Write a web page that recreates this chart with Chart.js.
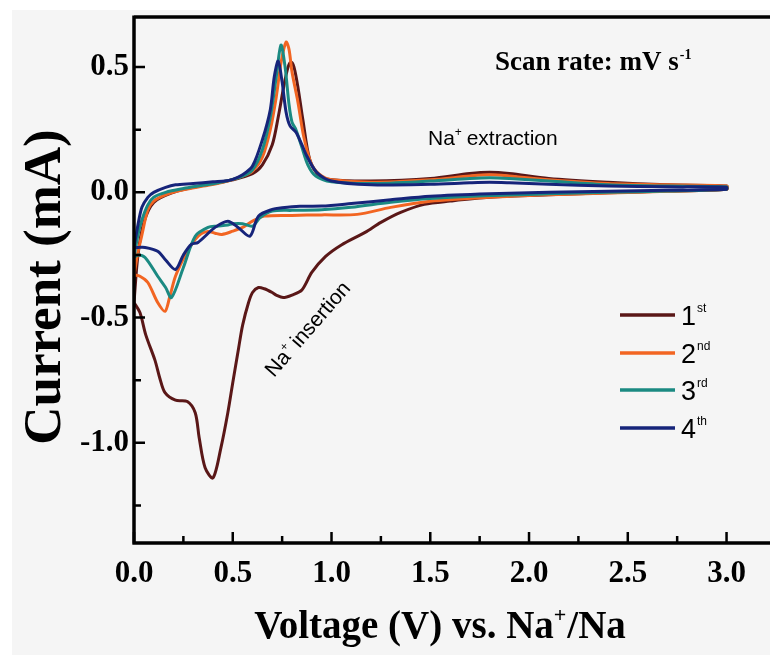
<!DOCTYPE html>
<html><head><meta charset="utf-8">
<script src="https://cdn.jsdelivr.net/npm/chart.js@4/dist/chart.umd.min.js"></script>
<style>html,body{margin:0;padding:0;background:#fff;}#wrap{width:770px;height:655px;}</style>
</head><body><div id="wrap"><canvas id="c" width="770" height="655"></canvas></div>
<script>
// ---- data ----
const cycleNumbers = ['1', '2', '3', '4'];
const cycleSuffixes = ['st', 'nd', 'rd', 'th'];
const cycleColors = ['#5a1717', '#f26522', '#1b8a82', '#16247a'];
const xTickLabels = ['0.0', '0.5', '1.0', '1.5', '2.0', '2.5', '3.0'];
const yTickLabels = ['-1.0', '-0.5', '0.0', '0.5'];

// cycle 1 (anodic sweep 0 -> 3 V, then cathodic 3 -> 0 V)
const c1AnodicV = [0.00, 0.02, 0.05, 0.10, 0.20, 0.30, 0.40, 0.50, 0.60, 0.65, 0.70, 0.73, 0.76, 0.78, 0.795, 0.81, 0.83, 0.855, 0.89, 0.94, 1.00, 1.20, 1.50, 1.70, 1.80, 1.90, 2.10, 2.40, 2.70, 3.00];
const c1AnodicI = [-0.44, -0.25, -0.12, -0.04, 0.00, 0.02, 0.035, 0.05, 0.075, 0.11, 0.19, 0.30, 0.43, 0.50, 0.52, 0.50, 0.42, 0.29, 0.13, 0.065, 0.05, 0.045, 0.055, 0.075, 0.08, 0.075, 0.055, 0.04, 0.03, 0.025];
const c1CathodicV = [3.00, 2.70, 2.40, 2.10, 1.80, 1.60, 1.47, 1.35, 1.25, 1.17, 1.05, 0.97, 0.90, 0.85, 0.80, 0.755, 0.72, 0.70, 0.66, 0.63, 0.60, 0.58, 0.55, 0.53, 0.50, 0.475, 0.44, 0.40, 0.36, 0.33, 0.31, 0.27, 0.21, 0.157, 0.13, 0.106, 0.06, 0.03, 0.00];
const c1CathodicI = [0.012, 0.005, -0.002, -0.01, -0.02, -0.035, -0.048, -0.08, -0.12, -0.16, -0.21, -0.256, -0.32, -0.39, -0.41, -0.42, -0.41, -0.40, -0.385, -0.38, -0.40, -0.44, -0.53, -0.62, -0.76, -0.88, -1.02, -1.14, -1.10, -0.98, -0.88, -0.835, -0.83, -0.80, -0.74, -0.67, -0.57, -0.48, -0.44];

// cycle 2
const c2AnodicV = [0.00, 0.02, 0.04, 0.07, 0.10, 0.16, 0.25, 0.35, 0.45, 0.55, 0.60, 0.65, 0.69, 0.72, 0.745, 0.77, 0.785, 0.80, 0.83, 0.86, 0.90, 0.95, 1.00, 1.20, 1.50, 1.70, 1.80, 1.90, 2.10, 2.40, 2.70, 3.00];
const c2AnodicI = [-0.33, -0.24, -0.17, -0.07, -0.035, -0.01, 0.01, 0.025, 0.04, 0.065, 0.085, 0.14, 0.25, 0.38, 0.52, 0.60, 0.57, 0.48, 0.36, 0.22, 0.11, 0.065, 0.05, 0.04, 0.05, 0.065, 0.07, 0.065, 0.05, 0.035, 0.03, 0.025];
const c2CathodicV = [3.00, 2.70, 2.40, 2.10, 1.80, 1.50, 1.30, 1.13, 0.95, 0.80, 0.66, 0.60, 0.55, 0.50, 0.445, 0.41, 0.375, 0.34, 0.31, 0.26, 0.21, 0.18, 0.157, 0.12, 0.07, 0.03, 0.00];
const c2CathodicI = [0.012, 0.004, -0.003, -0.01, -0.02, -0.036, -0.06, -0.088, -0.09, -0.092, -0.095, -0.115, -0.14, -0.155, -0.168, -0.163, -0.156, -0.165, -0.188, -0.25, -0.335, -0.42, -0.475, -0.44, -0.36, -0.335, -0.33];

// cycle 3
const c3AnodicV = [0.00, 0.02, 0.04, 0.07, 0.10, 0.16, 0.25, 0.35, 0.45, 0.55, 0.60, 0.65, 0.69, 0.72, 0.744, 0.765, 0.785, 0.80, 0.82, 0.85, 0.88, 0.92, 1.00, 1.20, 1.50, 1.70, 1.80, 1.90, 2.10, 2.40, 2.70, 3.00];
const c3AnodicI = [-0.26, -0.17, -0.11, -0.05, -0.02, 0.00, 0.015, 0.028, 0.042, 0.065, 0.09, 0.17, 0.30, 0.46, 0.588, 0.50, 0.35, 0.28, 0.25, 0.18, 0.11, 0.065, 0.042, 0.035, 0.045, 0.055, 0.058, 0.055, 0.045, 0.03, 0.025, 0.022];
const c3CathodicV = [3.00, 2.70, 2.40, 2.10, 1.80, 1.50, 1.30, 1.10, 0.95, 0.80, 0.70, 0.64, 0.60, 0.55, 0.50, 0.475, 0.42, 0.375, 0.31, 0.25, 0.19, 0.16, 0.12, 0.056, 0.02, 0.00];
const c3CathodicI = [0.012, 0.005, 0.00, -0.006, -0.013, -0.025, -0.04, -0.06, -0.07, -0.072, -0.075, -0.10, -0.135, -0.125, -0.125, -0.13, -0.135, -0.14, -0.175, -0.30, -0.42, -0.38, -0.335, -0.26, -0.25, -0.26];

// cycle 4
const c4AnodicV = [0.00, 0.02, 0.04, 0.07, 0.10, 0.16, 0.21, 0.30, 0.40, 0.46, 0.50, 0.55, 0.60, 0.65, 0.69, 0.71, 0.73, 0.75, 0.77, 0.79, 0.82, 0.85, 0.875, 0.925, 1.00, 1.20, 1.50, 1.70, 1.80, 1.90, 2.10, 2.40, 2.70, 3.00];
const c4AnodicI = [-0.22, -0.13, -0.06, -0.02, 0.00, 0.02, 0.03, 0.035, 0.042, 0.045, 0.052, 0.07, 0.105, 0.21, 0.33, 0.46, 0.524, 0.44, 0.32, 0.265, 0.24, 0.19, 0.145, 0.08, 0.045, 0.03, 0.032, 0.038, 0.04, 0.038, 0.032, 0.025, 0.022, 0.02];
const c4CathodicV = [3.00, 2.70, 2.40, 2.10, 1.80, 1.50, 1.30, 1.10, 0.95, 0.84, 0.75, 0.70, 0.63, 0.587, 0.527, 0.475, 0.41, 0.324, 0.29, 0.25, 0.21, 0.16, 0.12, 0.056, 0.02, 0.00];
const c4CathodicI = [0.012, 0.008, 0.004, 0.00, -0.006, -0.016, -0.03, -0.045, -0.055, -0.056, -0.062, -0.068, -0.095, -0.175, -0.14, -0.115, -0.14, -0.20, -0.208, -0.25, -0.308, -0.27, -0.235, -0.22, -0.22, -0.22];

// ---- build ----
function loop(av, ai, cv, ci) {
  const pts = [];
  av.forEach((v, k) => pts.push({x: v, y: ai[k]}));
  cv.forEach((v, k) => pts.push({x: v, y: ci[k]}));
  return pts;
}
const loops = [
  loop(c1AnodicV, c1AnodicI, c1CathodicV, c1CathodicI),
  loop(c2AnodicV, c2AnodicI, c2CathodicV, c2CathodicI),
  loop(c3AnodicV, c3AnodicI, c3CathodicV, c3CathodicI),
  loop(c4AnodicV, c4AnodicI, c4CathodicV, c4CathodicI)
];
const datasets = loops.map((pts, k) => ({
  label: cycleNumbers[k] + cycleSuffixes[k],
  data: pts,
  showLine: true,
  borderColor: cycleColors[k],
  backgroundColor: cycleColors[k],
  borderWidth: 3,
  pointRadius: 0,
  tension: 0.3,
  fill: false,
  order: 3 - k
}));

const SERIF = '"Liberation Serif", "Times New Roman", serif';
const SANS = '"Liberation Sans", Arial, sans-serif';

function drawSup(ctx, x, y, base, sup, font, supFont, rise) {
  ctx.font = font;
  ctx.fillText(base, x, y);
  let w = ctx.measureText(base).width;
  ctx.font = supFont;
  ctx.fillText(sup, x + w + 1, y - rise);
  return w + 1 + ctx.measureText(sup).width;
}

const decor = {
  id: 'decor',
  beforeDraw(chart) {
    const ctx = chart.ctx;
    ctx.save();
    ctx.fillStyle = '#ffffff';
    ctx.fillRect(0, 0, chart.width, chart.height);
    ctx.fillStyle = '#f5f5f5';
    ctx.fillRect(12, 10, chart.width - 12, chart.height - 10);
    ctx.restore();
  },
  afterDraw(chart) {
    const ctx = chart.ctx;
    const a = chart.chartArea;
    const xs = chart.scales.x, ys = chart.scales.y;
    ctx.save();
    ctx.strokeStyle = '#000';
    ctx.fillStyle = '#000';
    // frame: top, left, bottom
    ctx.lineWidth = 3.5;
    ctx.beginPath();
    ctx.moveTo(a.left, a.top); ctx.lineTo(a.right, a.top);
    ctx.moveTo(a.left, a.top - 1.5); ctx.lineTo(a.left, a.bottom + 1.5);
    ctx.moveTo(a.left - 1.5, a.bottom); ctx.lineTo(a.right, a.bottom);
    ctx.stroke();
    // inward ticks
    ctx.lineWidth = 2.5;
    ctx.beginPath();
    for (let v = 0; v <= 3.0001; v += 0.25) {
      const px = xs.getPixelForValue(v);
      const major = Math.abs(v / 0.5 - Math.round(v / 0.5)) < 1e-6;
      ctx.moveTo(px, a.bottom); ctx.lineTo(px, a.bottom - (major ? 11 : 7));
    }
    for (let v = -1.25; v <= 0.5001; v += 0.25) {
      const py = ys.getPixelForValue(v);
      const major = Math.abs(v / 0.5 - Math.round(v / 0.5)) < 1e-6;
      ctx.moveTo(a.left, py); ctx.lineTo(a.left + (major ? 11 : 7), py);
    }
    ctx.stroke();

    // x title
    ctx.textBaseline = 'alphabetic';
    ctx.textAlign = 'left';
    const tf = 'bold 39px ' + SERIF, tfs = 'bold 22px ' + SERIF;
    ctx.font = tf;
    const p1 = 'Voltage (V) vs. Na', p3 = '/Na';
    const w1 = ctx.measureText(p1).width, w3 = ctx.measureText(p3).width;
    ctx.font = tfs; const w2 = ctx.measureText('+').width + 1;
    let sx = 440 - (w1 + w2 + w3) / 2;
    ctx.font = tf; ctx.fillText(p1, sx, 638);
    ctx.font = tfs; ctx.fillText('+', sx + w1, 622);
    ctx.font = tf; ctx.fillText(p3, sx + w1 + w2, 638);

    // y title
    ctx.save();
    ctx.translate(60, 287);
    ctx.rotate(-Math.PI / 2);
    ctx.font = 'bold 53px ' + SERIF;
    ctx.textAlign = 'center';
    ctx.fillText('Current (mA)', 0, 0);
    ctx.restore();

    // scan rate
    drawSup(ctx, 495, 70, 'Scan rate: mV s', '-1', 'bold 27px ' + SERIF, 'bold 14px ' + SERIF, 11);

    // Na+ extraction
    ctx.font = '21px ' + SANS;
    let wN = ctx.measureText('Na').width;
    ctx.fillText('Na', 428, 145);
    ctx.font = '12px ' + SANS; ctx.fillText('+', 428 + wN, 136);
    ctx.font = '21px ' + SANS; ctx.fillText(' extraction', 428 + wN + 6, 145);

    // Na+ insertion (rotated)
    ctx.save();
    ctx.translate(274, 378);
    ctx.rotate(-49 * Math.PI / 180);
    ctx.font = '21px ' + SANS;
    ctx.fillText('Na', 0, 0);
    ctx.font = '12px ' + SANS; ctx.fillText('+', wN, -9);
    ctx.font = '21px ' + SANS; ctx.fillText(' insertion', wN + 6, 0);
    ctx.restore();

    // legend
    const ly = [315, 353, 390, 428];
    chart.data.datasets.forEach((ds, k) => {
      ctx.strokeStyle = ds.borderColor;
      ctx.lineWidth = 3.5;
      ctx.beginPath(); ctx.moveTo(620, ly[k]); ctx.lineTo(675, ly[k]); ctx.stroke();
      ctx.fillStyle = '#000';
      drawSup(ctx, 681, ly[k] + 10, cycleNumbers[k], cycleSuffixes[k], '27px ' + SANS, '12px ' + SANS, 13);
    });
    ctx.restore();
  }
};

new Chart(document.getElementById('c'), {
  type: 'scatter',
  data: { datasets },
  options: {
    responsive: false,
    animation: false,
    layout: { padding: { left: 0, top: 17, right: 0, bottom: 0 } },
    plugins: { legend: { display: false }, tooltip: { enabled: false }, title: { display: false } },
    scales: {
      x: {
        type: 'linear', min: 0, max: 3.22,
        afterFit(s) { s.height = 112; s.paddingLeft = 0; s.paddingRight = 0; },
        grid: { display: false, drawTicks: false },
        border: { display: false },
        ticks: {
          stepSize: 0.5, includeBounds: false, padding: 12, color: '#000',
          font: { family: SERIF, size: 31, weight: 'bold' },
          callback: (v) => xTickLabels[Math.round(v / 0.5)] ?? ''
        }
      },
      y: {
        type: 'linear', min: -1.4, max: 0.7,
        afterFit(s) { s.width = 134; s.paddingTop = 0; s.paddingBottom = 0; },
        grid: { display: false, drawTicks: false },
        border: { display: false },
        ticks: {
          stepSize: 0.5, includeBounds: false, padding: 5, color: '#000',
          font: { family: SERIF, size: 31, weight: 'bold' },
          callback: (v) => yTickLabels[Math.round(v / 0.5) + 2] ?? ''
        }
      }
    }
  },
  plugins: [decor]
});
</script>
</body></html>
